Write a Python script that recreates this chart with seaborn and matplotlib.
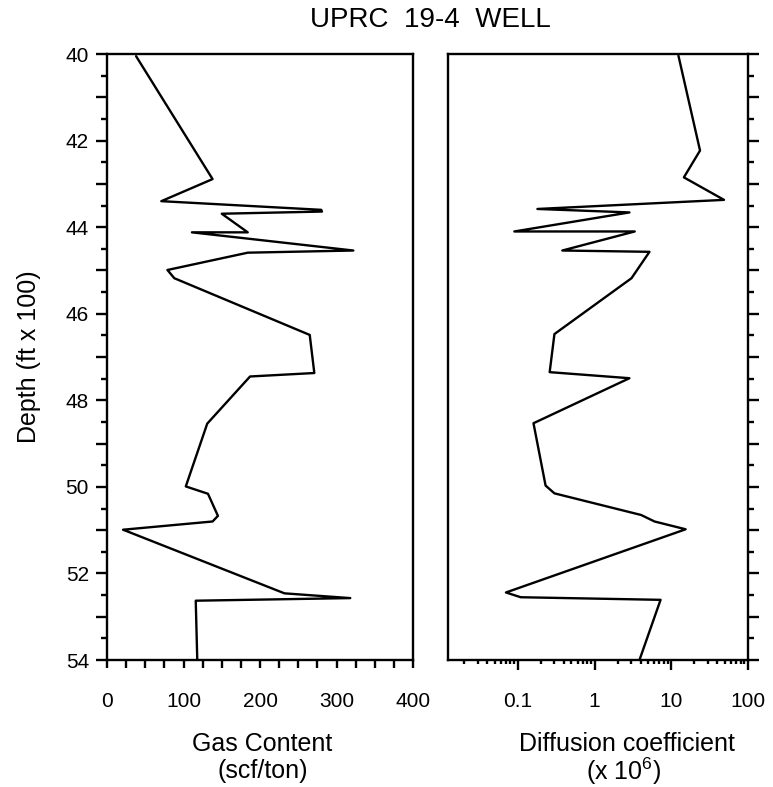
import numpy as np
import pandas as pd
import matplotlib
matplotlib.use("Agg")
import matplotlib.pyplot as plt
import matplotlib.ticker as mticker
import seaborn as sns

# gas content log (scf/ton) vs depth (ft x 100)
gas_depth = [40.05, 42.89, 43.40, 43.60, 43.64, 43.69, 44.12, 44.12, 44.54, 44.59,
             44.99, 45.18, 46.49, 47.37, 47.45, 48.54, 49.99, 50.16, 50.67, 50.80,
             50.99, 52.46, 52.57, 52.63, 54.0]
gas_content = [38, 138, 71, 280, 281, 150, 184, 111, 322, 184,
               79, 88, 265, 271, 187, 131, 103, 132, 145, 138,
               21, 232, 318, 116, 118]

# diffusion coefficient (x 1e6) vs depth
diff_depth = [40.04, 42.23, 42.85, 43.37, 43.58, 43.66, 44.10, 44.10, 44.54, 44.57,
              45.18, 46.47, 47.35, 47.49, 48.53, 49.97, 50.15, 50.65, 50.80, 50.98,
              52.44, 52.55, 52.61, 54.0]
diff_coef = [12.4, 23.7, 14.6, 48.7, 0.18, 2.85, 0.09, 3.34, 0.38, 5.2,
             3.03, 0.30, 0.26, 2.85, 0.16, 0.23, 0.30, 4.05, 6.05, 15.4,
             0.070, 0.109, 7.25, 3.85]

sns.set_style("ticks")
plt.rcParams['font.family'] = ['Liberation Sans', 'DejaVu Sans']
plt.rcParams['mathtext.default'] = 'regular'
for k in ('text.color', 'axes.labelcolor', 'xtick.color', 'ytick.color', 'axes.edgecolor'):
    plt.rcParams[k] = 'black'

W, H = 773, 787
fig = plt.figure(figsize=(W / 100, H / 100), dpi=100)
ax1 = fig.add_axes([107 / W, 1 - 660 / H, 306 / W, 606 / H])
ax2 = fig.add_axes([448 / W, 1 - 660 / H, 300 / W, 606 / H])

gas_df = pd.DataFrame({'depth': gas_depth, 'gas': gas_content})
diff_df = pd.DataFrame({'depth': diff_depth, 'diff': diff_coef})

sns.lineplot(data=gas_df, x='gas', y='depth', sort=False, estimator=None,
             color='black', lw=1.7, ax=ax1)
sns.lineplot(data=diff_df, x='diff', y='depth', sort=False, estimator=None,
             color='black', lw=1.7, ax=ax2)

for ax in (ax1, ax2):
    ax.set_ylim(54, 40)
    for s in ax.spines.values():
        s.set_visible(True)
        s.set_linewidth(1.7)
    ax.yaxis.set_major_locator(mticker.MultipleLocator(1))
    ax.yaxis.set_minor_locator(mticker.MultipleLocator(0.5))
    ax.tick_params(axis='y', which='major', length=8, width=1.7, direction='out')
    ax.tick_params(axis='y', which='minor', length=4.5, width=1.7, direction='out')
    ax.tick_params(axis='both', labelsize=15)
    ax.set_ylabel('')
    ax.set_xlabel('')

# left panel
ax1.set_xlim(0, 400)
ax1.xaxis.set_major_locator(mticker.MultipleLocator(25))
ax1.xaxis.set_major_formatter(mticker.FuncFormatter(
    lambda v, p: f'{int(round(v))}' if round(v) % 100 == 0 else ''))
ax1.tick_params(axis='x', which='major', length=6, width=1.7, pad=17)
ax1.yaxis.set_major_formatter(mticker.FuncFormatter(
    lambda v, p: f'{int(round(v))}' if round(v) % 2 == 0 else ''))
ax1.tick_params(axis='y', which='major', pad=5)
ax1.set_ylabel('Depth (ft x 100)', fontsize=18)
ax1.yaxis.set_label_coords(-0.215, 0.5)

# right panel
ax2.set_xscale('log')
ax2.set_xlim(0.0123, 100)
ax2.xaxis.set_major_locator(mticker.FixedLocator([0.1, 1, 10, 100]))
ax2.xaxis.set_major_formatter(mticker.FixedFormatter(['0.1', '1', '10', '100']))
ax2.xaxis.set_minor_locator(mticker.LogLocator(base=10, subs=np.arange(2, 10)))
ax2.xaxis.set_minor_formatter(mticker.NullFormatter())
ax2.tick_params(axis='x', which='major', length=7, width=1.7, pad=16)
ax2.tick_params(axis='x', which='minor', length=3, width=1.7)
ax2.yaxis.tick_right()
ax2.tick_params(axis='y', which='both', labelright=False, labelleft=False)

# axis titles, two lines each
fig.text(262 / W, 1 - 751 / H, 'Gas Content', ha='center', va='baseline', fontsize=18)
fig.text(263 / W, 1 - 778 / H, '(scf/ton)', ha='center', va='baseline', fontsize=18)
fig.text(627 / W, 1 - 751 / H, 'Diffusion coefficient', ha='center', va='baseline', fontsize=18)
fig.text(624 / W, 1 - 780 / H, '(x 10$^{6}$)', ha='center', va='baseline', fontsize=18)

fig.text(430 / W, 1 - 20 / H, 'UPRC  19-4  WELL', ha='center', va='center', fontsize=20)

fig.savefig('out.png', dpi=100)
